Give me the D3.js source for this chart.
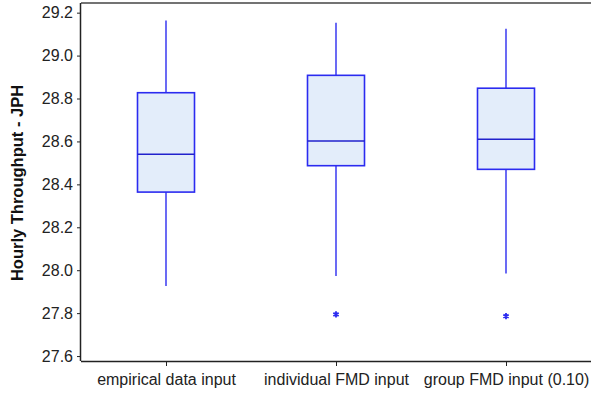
<!DOCTYPE html>
<html><head><meta charset="utf-8">
<script src="https://cdn.jsdelivr.net/npm/d3@7"></script>
<style>body{margin:0;background:#fff}svg{display:block}</style>
</head><body>
<svg id="c" width="591" height="396"></svg>
<script>
const categories = ["empirical data input", "individual FMD input", "group FMD input (0.10)"];
const whiskerLow = [27.926, 27.973, 27.985];
const q1 = [28.364, 28.487, 28.470];
const median = [28.540, 28.602, 28.610];
const q3 = [28.827, 28.908, 28.848];
const whiskerHigh = [29.163, 29.153, 29.125];
const outliers = [[], [27.794], [27.786]];
const yTicks = [27.6, 27.8, 28.0, 28.2, 28.4, 28.6, 28.8, 29.0, 29.2];

(function () {
const svg = d3.select("#c");
const mLeft = 81, mRight = 591, mTop = 3, mBottom = 361;
const x = d3.scalePoint().domain(categories).range([mLeft, mRight]).padding(0.5);
const y = d3.scaleLinear().domain([27.577, 29.245]).range([mBottom, mTop]);
const boxW = 57;
const blue = "#2b2bf0";
const font = "Liberation Sans, Arial, sans-serif";

svg.append("line").attr("x1", mLeft).attr("x2", 591).attr("y1", mTop).attr("y2", mTop)
  .attr("stroke", "#444").attr("stroke-width", 1.5);

const data = categories.map((c, i) => ({c, lo: whiskerLow[i], q1: q1[i], med: median[i], q3: q3[i], hi: whiskerHigh[i], out: outliers[i]}));
const g = svg.append("g");
data.forEach(d => {
  const cx = x(d.c);
  g.append("line").attr("x1", cx).attr("x2", cx).attr("y1", y(d.hi)).attr("y2", y(d.q3)).attr("stroke", blue).attr("stroke-width", 1.4);
  g.append("line").attr("x1", cx).attr("x2", cx).attr("y1", y(d.q1)).attr("y2", y(d.lo)).attr("stroke", blue).attr("stroke-width", 1.4);
  g.append("rect").attr("x", cx - boxW/2).attr("width", boxW).attr("y", y(d.q3)).attr("height", y(d.q1) - y(d.q3))
    .attr("fill", "#e3edfa").attr("stroke", blue).attr("stroke-width", 1.6);
  g.append("line").attr("x1", cx - boxW/2).attr("x2", cx + boxW/2).attr("y1", y(d.med)).attr("y2", y(d.med)).attr("stroke", "#2222cc").attr("stroke-width", 1.6);
  d.out.forEach(v => {
    g.append("path").attr("d", d3.symbol(d3.symbolAsterisk, 26)()).attr("transform", `translate(${cx},${y(v)})`)
      .attr("stroke", blue).attr("stroke-width", 1.8).attr("fill", "none");
  });
});

const yAxis = svg.append("g").attr("transform", `translate(${mLeft},0)`)
  .call(d3.axisLeft(y).tickValues(yTicks).tickFormat(d3.format(".1f")).tickSize(4).tickPadding(4));
yAxis.select(".domain").attr("d", `M-0.5,${mTop}V${mBottom}`).attr("stroke", "#222").attr("stroke-width", 1.5);
yAxis.selectAll("text").attr("font-family", font).attr("font-size", 16).attr("fill", "#222");
yAxis.selectAll(".tick line").attr("stroke", "#222");

const xAxis = svg.append("g").attr("transform", `translate(0,${mBottom})`)
  .call(d3.axisBottom(x).tickSize(5).tickPadding(8));
xAxis.select(".domain").attr("d", `M${mLeft},0.5H591`).attr("stroke", "#222").attr("stroke-width", 1.5);
xAxis.selectAll("text").attr("font-family", font).attr("font-size", 16).attr("fill", "#222");
xAxis.selectAll(".tick line").attr("stroke", "#222");

svg.append("text").attr("transform", `translate(23,183) rotate(-90)`)
  .attr("text-anchor", "middle").attr("font-family", font)
  .attr("font-size", 16.5).attr("font-weight", "bold").attr("fill", "#111").text("Hourly Throughput - JPH");
})();
</script>
</body></html>
